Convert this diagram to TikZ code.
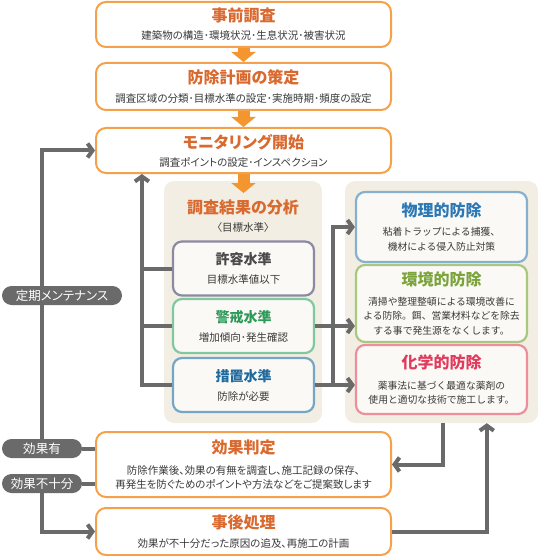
\documentclass[tikz,border=0pt]{standalone}
\usepackage{fontspec}
\setmainfont{Noto Sans CJK JP}[RawFeature=+palt]
\newfontfamily\fullwidth{Noto Sans CJK JP}
\usetikzlibrary{arrows.meta,positioning}

\definecolor{flowgray}{HTML}{6A6A6A}
\definecolor{boxorange}{HTML}{F5A04A}
\definecolor{arroworange}{HTML}{F3962F}
\definecolor{ttlorange}{HTML}{D9692E}
\definecolor{bodygray}{HTML}{3A3A3A}
\definecolor{panelfill}{HTML}{F3EEE3}
\definecolor{innerfill}{HTML}{FAF9F5}
\definecolor{allowline}{HTML}{8C8AA3}
\definecolor{allowtxt}{HTML}{4A4A4A}
\definecolor{alertline}{HTML}{80C8A0}
\definecolor{alerttxt}{HTML}{2E9A5A}
\definecolor{actionline}{HTML}{76A6C6}
\definecolor{actiontxt}{HTML}{1F6A9E}
\definecolor{physline}{HTML}{86B0D0}
\definecolor{phystxt}{HTML}{2B78B5}
\definecolor{envline}{HTML}{A9C77F}
\definecolor{envtxt}{HTML}{7AA33A}
\definecolor{chemline}{HTML}{EE8E9C}
\definecolor{chemtxt}{HTML}{E23A5C}

\newcommand\ttl[3][16]{{\fontsize{#1}{#1}\selectfont\bfseries\color{#2}#3}}

\begin{document}
\begin{tikzpicture}[x=1pt,y=-1pt,
      every node/.style={font=\fontsize{10.5}{14.5}\selectfont,text=bodygray,align=center,inner sep=0pt},
      orange box/.style={draw=boxorange,fill=white,line width=2pt,rounded corners=10pt,minimum width=295pt},
      panel/.style={fill=panelfill,rounded corners=10pt},
      level box/.style={draw=#1,fill=innerfill,line width=2.2pt,rounded corners=9pt,minimum width=141pt,minimum height=54pt},
      method box/.style={draw=#1,fill=innerfill,line width=2.2pt,rounded corners=9pt,minimum width=171pt,
        font=\fullwidth\fontsize{9.8}{14.5}\selectfont},
      pill/.style={fill=flowgray,text=white,rounded corners=9.5pt,minimum height=19pt,font=\fontsize{12.5}{14}\selectfont},
      link/.style={draw=flowgray,line width=4pt},
      flow/.style={link,-{Straight Barb[length=5pt,width=14pt]}},
      orange arrow/.style={draw=arroworange,line width=12pt,-{Triangle[length=10pt,width=24pt]}}]
    \useasboundingbox (0,0) rectangle (540,556);

    % panels
    \node[panel,minimum width=158pt,minimum height=242pt] (panelL) at (243,302) {};
    \node[panel,minimum width=193pt,minimum height=242pt] (panelR) at (441.5,302) {};
    \node (hdr) at (243,216) {\ttl{ttlorange}{調査結果の分析}\\[3pt]〈目標水準〉};

    % flow boxes
    \node[orange box,minimum height=45pt] (survey) at (243.5,24.5)
      {\ttl{ttlorange}{事前調査}\\[3.5pt]建築物の構造･環境状況･生息状況･被害状況};
    \node[orange box,minimum height=47pt] (plan) at (243.5,86.5)
      {\ttl{ttlorange}{防除計画の策定}\\[4.5pt]調査区域の分類･目標水準の設定･実施時期･頻度の設定};
    \node[orange box,minimum height=45pt] (monitor) at (243.5,150.5)
      {\ttl{ttlorange}{モニタリング開始}\\[3.5pt]調査ポイントの設定･インスペクション};
    \node[orange box,minimum height=65pt] (judge) at (243.5,464.5)
      {\ttl{ttlorange}{効果判定}\\[6.5pt]防除作業後、効果の有無を調査し、施工記録の保存、\\再発生を防ぐためのポイントや方法などをご提案致します};
    \node[orange box,minimum height=47pt] (after) at (243.5,531.5)
      {\ttl{ttlorange}{事後処理}\\[4.5pt]効果が不十分だった原因の追及、再施工の計画};

    % levels
    \node[level box=allowline] (allow) at (243.5,268.5) {\ttl[14]{allowtxt}{許容水準}\\[4.5pt]目標水準値以下};
    \node[level box=alertline] (alert) at (243.5,326) {\ttl[14]{alerttxt}{警戒水準}\\[4.5pt]増加傾向･発生確認};
    \node[level box=actionline] (action) at (243.5,385) {\ttl[14]{actiontxt}{措置水準}\\[4.5pt]防除が必要};

    % methods
    \node[method box=physline,minimum height=70pt] (phys) at (441.5,227)
      {\ttl{phystxt}{物理的防除}\\[4.5pt]粘着トラップによる捕獲、\\機材による侵入防止対策};
    \node[method box=envline,minimum height=77pt] (env) at (441.5,303.5)
      {\ttl{envtxt}{環境的防除}\\[5.5pt]清掃や整理整頓による環境改善に\\よる防除。餌、営業材料などを除去\\する事で発生源をなくします。};
    \node[method box=chemline,minimum height=69pt] (chem) at (441.5,379.5)
      {\ttl{chemtxt}{化学的防除}\\[6.5pt]薬事法に基づく最適な薬剤の\\使用と適切な技術で施工します。};

    % orange steps
    \coordinate (tip) at (243.5,193);
    \draw[orange arrow] (survey) -- (plan);
    \draw[orange arrow] (plan) -- (monitor);
    \draw[orange arrow] (monitor.south) -- (tip);

    % results
    \node[pill,minimum width=80pt] (yes) at (42,448.5) {効果有};
    \node[pill,minimum width=80pt] (insuf) at (42,483.5) {効果不十分};

    % gray connectors
    \draw[flow] (action.west) -| ([xshift=-30pt]allow.west |- monitor.south);
    \draw[link] (allow.west) -- ++(-30,0);
    \draw[link] (alert.west) -- ++(-30,0);
    \draw[flow] (action.east) -- ++(18,0) |- (phys.west);
    \draw[flow] (alert.east) -- (env.west |- alert.east);
    \draw[flow] (action.east) -- (chem.west |- action.east);
    \draw[flow] ([xshift=98pt]panelR.south west) |- (judge.east);
    \draw[flow] (after.east) -| ([xshift=142pt]panelR.south west);
    \draw[link] (yes.east) -- (yes.east -| judge.west);
    \draw[link] (insuf.east) -- (insuf.east -| judge.west);
    \draw[flow] (insuf.south) |- (after.west);
    \draw[flow] (yes.north) |- (monitor.west);

    \node[pill,minimum width=120pt] (maint) at (62,295.5) {定期メンテナンス};
\end{tikzpicture}
\end{document}
